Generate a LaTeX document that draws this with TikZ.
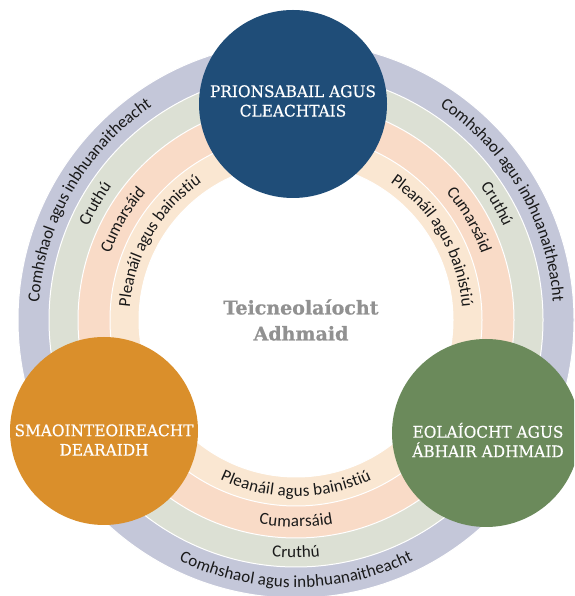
\documentclass[tikz,border=0pt]{standalone}
\usepackage{fontspec}
\usetikzlibrary{decorations.text}
\newfontfamily\ringfont{Carlito}
\newfontfamily\slabfont[FakeStretch=0.96,FakeBold=0.5]{DejaVu Serif}
\newfontfamily\titlefont[BoldFeatures={FakeBold=0.8}]{DejaVu Serif}
\definecolor{lav}{RGB}{196,199,217}
\definecolor{sage}{RGB}{220,224,212}
\definecolor{peach}{RGB}{249,219,199}
\definecolor{lpeach}{RGB}{250,231,210}
\definecolor{cblue}{RGB}{31,77,120}
\definecolor{corange}{RGB}{218,143,43}
\definecolor{cgreen}{RGB}{107,138,91}
\definecolor{cgray}{RGB}{145,145,145}
\definecolor{txt}{RGB}{25,25,25}
\newcommand\ringtext[4]{%
  \path[decorate,decoration={text along path,text align=center,raise=-5pt,
    text color=txt,
    text={|\ringfont\fontsize{17}{20}\selectfont|#4}}]
    (C) ++(#2:#1) arc[start angle=#2,end angle=#3,radius=#1];}
\begin{document}
\begin{tikzpicture}[x=1pt,y=1pt,
  band/.style={draw=white,line width=1pt},
  bigdisc/.style={circle,minimum size=188pt,inner sep=0pt},
  disclabel/.style={text=white,align=center,font=\slabfont\fontsize{16}{19.5}\selectfont},
  centrelabel/.style={text=cgray,align=center,font=\titlefont\bfseries\fontsize{19}{26}\selectfont}]
\useasboundingbox (0,0) rectangle (574,596);
\clip (0,0) rectangle (574,596);
\fill[white] (0,0) rectangle (574,596);
\coordinate (C) at (296,276);
\foreach \r/\c in {278/lav,247/sage,218/peach,186/lpeach,157/white}
  \draw[band,fill=\c] (C) circle[radius=\r];
% left side (clockwise, tops outward)
\ringtext{262.5}{200}{100}{Comhshaol agus inbhuanaitheacht}
\ringtext{232.5}{200}{100}{Cruthú}
\ringtext{202}{200}{100}{Cumarsáid}
\ringtext{171.5}{200}{100}{Pleanáil agus bainistiú}
% right side
\ringtext{262.5}{80}{-20}{Comhshaol agus inbhuanaitheacht}
\ringtext{232.5}{80}{-20}{Cruthú}
\ringtext{202}{80}{-20}{Cumarsáid}
\ringtext{171.5}{80}{-20}{Pleanáil agus bainistiú}
% bottom (counter-clockwise, tops inward)
\ringtext{262.5}{220}{320}{Comhshaol agus inbhuanaitheacht}
\ringtext{232.5}{220}{320}{Cruthú}
\ringtext{202}{220}{320}{Cumarsáid}
\ringtext{171.5}{220}{320}{Pleanáil agus bainistiú}
% discs
\node[bigdisc,fill=cblue] (prin) at (293,492) {};
\node[bigdisc,fill=corange] (smao) at (104,165) {};
\node[bigdisc,fill=cgreen] (eola) at (486,163) {};
\node[disclabel] (prinT) at (293,495) {PRIONSABAIL AGUS\\CLEACHTAIS};
\node[disclabel] (smaoT) at (104,156) {SMAOINTEOIREACHT\\DEARAIDH};
\node[disclabel] (eolaT) at (488,156) {EOLAÍOCHT AGUS\\ÁBHAIR ADHMAID};
\node[centrelabel] (title) at (301,276) {Teicneolaíocht\\Adhmaid};
\end{tikzpicture}
\end{document}
